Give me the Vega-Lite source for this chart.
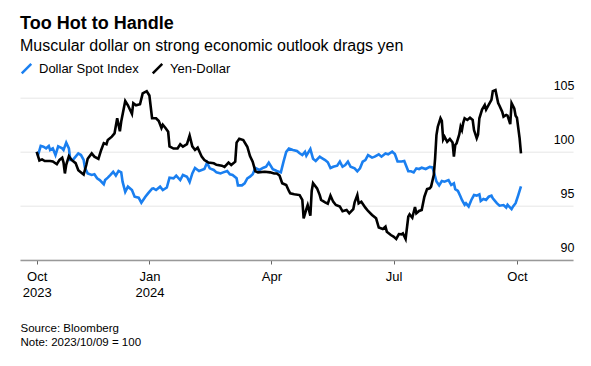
{
  "$schema": "https://vega.github.io/schema/vega-lite/v6.json",
  "width": 553,
  "height": 162.3,
  "autosize": {"type": "none"},
  "padding": {"left": 20, "right": 18, "top": 97.7, "bottom": 106},
  "title": {
    "text": "Too Hot to Handle",
    "subtitle": "Muscular dollar on strong economic outlook drags yen",
    "anchor": "start",
    "frame": "group",
    "font": "Liberation Sans",
    "fontSize": 18,
    "fontWeight": "bold",
    "color": "#000000",
    "subtitleFont": "Liberation Sans",
    "subtitleFontSize": 16,
    "subtitleColor": "#000000",
    "subtitlePadding": 5,
    "offset": 8
  },
  "datasets": {
    "yen": [
      {"t": "2023-10-09", "v": 100.0}, {"t": "2023-10-11", "v": 99.2}, {"t": "2023-10-13", "v": 99.3}, {"t": "2023-10-15", "v": 99.15},
      {"t": "2023-10-19", "v": 99.15}, {"t": "2023-10-21", "v": 99.1}, {"t": "2023-10-24", "v": 98.85}, {"t": "2023-10-26", "v": 99.25},
      {"t": "2023-10-28", "v": 99.45}, {"t": "2023-10-29", "v": 99.0}, {"t": "2023-10-30", "v": 98.0}, {"t": "2023-10-31", "v": 98.8},
      {"t": "2023-11-02", "v": 99.6}, {"t": "2023-11-04", "v": 99.25}, {"t": "2023-11-07", "v": 98.95}, {"t": "2023-11-09", "v": 98.3},
      {"t": "2023-11-12", "v": 98.0}, {"t": "2023-11-13", "v": 97.9}, {"t": "2023-11-15", "v": 98.8}, {"t": "2023-11-16", "v": 99.35},
      {"t": "2023-11-19", "v": 99.85}, {"t": "2023-11-21", "v": 99.55}, {"t": "2023-11-24", "v": 99.35}, {"t": "2023-11-26", "v": 100.15},
      {"t": "2023-11-28", "v": 100.8}, {"t": "2023-11-30", "v": 100.7}, {"t": "2023-12-01", "v": 101.1}, {"t": "2023-12-04", "v": 101.4},
      {"t": "2023-12-06", "v": 101.7}, {"t": "2023-12-08", "v": 103.1}, {"t": "2023-12-10", "v": 101.9}, {"t": "2023-12-11", "v": 102.8},
      {"t": "2023-12-14", "v": 104.7}, {"t": "2023-12-16", "v": 104.3}, {"t": "2023-12-19", "v": 103.5}, {"t": "2023-12-20", "v": 104.5},
      {"t": "2023-12-22", "v": 104.3}, {"t": "2023-12-25", "v": 104.4}, {"t": "2023-12-27", "v": 105.4}, {"t": "2023-12-30", "v": 105.6},
      {"t": "2024-01-01", "v": 105.2}, {"t": "2024-01-03", "v": 103.1}, {"t": "2024-01-06", "v": 103.1}, {"t": "2024-01-08", "v": 102.85},
      {"t": "2024-01-10", "v": 102.2}, {"t": "2024-01-11", "v": 102.5}, {"t": "2024-01-13", "v": 102.2}, {"t": "2024-01-15", "v": 101.85},
      {"t": "2024-01-16", "v": 100.5}, {"t": "2024-01-19", "v": 100.3}, {"t": "2024-01-22", "v": 100.3}, {"t": "2024-01-24", "v": 100.7},
      {"t": "2024-01-26", "v": 100.47}, {"t": "2024-01-29", "v": 100.7}, {"t": "2024-01-31", "v": 101.5}, {"t": "2024-02-02", "v": 100.5},
      {"t": "2024-02-04", "v": 100.17}, {"t": "2024-02-06", "v": 100.38}, {"t": "2024-02-09", "v": 99.55}, {"t": "2024-02-11", "v": 99.24},
      {"t": "2024-02-14", "v": 99.0}, {"t": "2024-02-18", "v": 98.94}, {"t": "2024-02-20", "v": 98.8}, {"t": "2024-02-24", "v": 98.72},
      {"t": "2024-02-26", "v": 98.6}, {"t": "2024-02-29", "v": 99.0}, {"t": "2024-03-02", "v": 98.78}, {"t": "2024-03-05", "v": 99.09},
      {"t": "2024-03-06", "v": 100.85}, {"t": "2024-03-08", "v": 101.2}, {"t": "2024-03-11", "v": 101.09}, {"t": "2024-03-14", "v": 100.47},
      {"t": "2024-03-16", "v": 99.6}, {"t": "2024-03-18", "v": 99.09}, {"t": "2024-03-20", "v": 98.2}, {"t": "2024-03-22", "v": 98.1},
      {"t": "2024-03-27", "v": 98.16}, {"t": "2024-03-31", "v": 98.1}, {"t": "2024-04-03", "v": 98.0}, {"t": "2024-04-05", "v": 98.0},
      {"t": "2024-04-07", "v": 97.8}, {"t": "2024-04-09", "v": 97.1}, {"t": "2024-04-12", "v": 96.93}, {"t": "2024-04-14", "v": 96.38},
      {"t": "2024-04-15", "v": 96.16}, {"t": "2024-04-18", "v": 96.07}, {"t": "2024-04-22", "v": 96.0}, {"t": "2024-04-24", "v": 95.55},
      {"t": "2024-04-25", "v": 93.85}, {"t": "2024-04-27", "v": 94.71}, {"t": "2024-04-28", "v": 95.08}, {"t": "2024-04-30", "v": 94.1},
      {"t": "2024-05-01", "v": 96.38}, {"t": "2024-05-02", "v": 97.1}, {"t": "2024-05-05", "v": 96.62}, {"t": "2024-05-07", "v": 96.0},
      {"t": "2024-05-08", "v": 95.55}, {"t": "2024-05-11", "v": 95.33}, {"t": "2024-05-13", "v": 95.2}, {"t": "2024-05-15", "v": 95.95},
      {"t": "2024-05-17", "v": 95.39}, {"t": "2024-05-19", "v": 95.08}, {"t": "2024-05-22", "v": 94.93}, {"t": "2024-05-24", "v": 94.5},
      {"t": "2024-05-27", "v": 94.62}, {"t": "2024-05-29", "v": 94.31}, {"t": "2024-06-01", "v": 94.71}, {"t": "2024-06-02", "v": 95.33},
      {"t": "2024-06-04", "v": 96.0}, {"t": "2024-06-05", "v": 95.24}, {"t": "2024-06-07", "v": 95.39}, {"t": "2024-06-10", "v": 94.84},
      {"t": "2024-06-12", "v": 94.53}, {"t": "2024-06-15", "v": 94.16}, {"t": "2024-06-18", "v": 93.85}, {"t": "2024-06-20", "v": 93.0},
      {"t": "2024-06-23", "v": 92.87}, {"t": "2024-06-25", "v": 93.08}, {"t": "2024-06-26", "v": 92.62}, {"t": "2024-06-29", "v": 92.31},
      {"t": "2024-07-01", "v": 92.16}, {"t": "2024-07-03", "v": 91.95}, {"t": "2024-07-05", "v": 92.4}, {"t": "2024-07-07", "v": 92.37},
      {"t": "2024-07-08", "v": 92.46}, {"t": "2024-07-10", "v": 91.95}, {"t": "2024-07-12", "v": 94.0}, {"t": "2024-07-13", "v": 94.22},
      {"t": "2024-07-15", "v": 93.91}, {"t": "2024-07-17", "v": 94.9}, {"t": "2024-07-18", "v": 94.31}, {"t": "2024-07-20", "v": 94.53},
      {"t": "2024-07-22", "v": 94.62}, {"t": "2024-07-24", "v": 95.85}, {"t": "2024-07-26", "v": 96.55}, {"t": "2024-07-28", "v": 96.62},
      {"t": "2024-07-29", "v": 96.78}, {"t": "2024-07-31", "v": 97.85}, {"t": "2024-08-01", "v": 99.4}, {"t": "2024-08-02", "v": 101.55},
      {"t": "2024-08-03", "v": 102.32}, {"t": "2024-08-05", "v": 103.1}, {"t": "2024-08-06", "v": 102.85}, {"t": "2024-08-07", "v": 101.15},
      {"t": "2024-08-08", "v": 101.4}, {"t": "2024-08-10", "v": 100.93}, {"t": "2024-08-12", "v": 101.18}, {"t": "2024-08-14", "v": 100.87},
      {"t": "2024-08-15", "v": 99.55}, {"t": "2024-08-16", "v": 100.63}, {"t": "2024-08-17", "v": 100.78}, {"t": "2024-08-19", "v": 101.61},
      {"t": "2024-08-20", "v": 102.32}, {"t": "2024-08-21", "v": 102.01}, {"t": "2024-08-22", "v": 102.7}, {"t": "2024-08-23", "v": 103.1},
      {"t": "2024-08-25", "v": 102.94}, {"t": "2024-08-27", "v": 103.15}, {"t": "2024-08-29", "v": 102.94}, {"t": "2024-08-30", "v": 102.01},
      {"t": "2024-09-01", "v": 101.25}, {"t": "2024-09-02", "v": 101.61}, {"t": "2024-09-03", "v": 103.1}, {"t": "2024-09-05", "v": 103.9},
      {"t": "2024-09-07", "v": 104.33}, {"t": "2024-09-08", "v": 103.9}, {"t": "2024-09-10", "v": 104.35}, {"t": "2024-09-12", "v": 104.8},
      {"t": "2024-09-13", "v": 105.6}, {"t": "2024-09-15", "v": 105.7}, {"t": "2024-09-17", "v": 104.5}, {"t": "2024-09-18", "v": 104.26},
      {"t": "2024-09-20", "v": 103.7}, {"t": "2024-09-21", "v": 103.25}, {"t": "2024-09-23", "v": 103.4}, {"t": "2024-09-24", "v": 103.34},
      {"t": "2024-09-26", "v": 102.55}, {"t": "2024-09-27", "v": 104.5}, {"t": "2024-09-29", "v": 104.02}, {"t": "2024-09-30", "v": 103.34},
      {"t": "2024-10-01", "v": 103.15}, {"t": "2024-10-03", "v": 101.25}, {"t": "2024-10-04", "v": 99.85}
    ],
    "dollar": [
      {"t": "2023-10-09", "v": 100.0}, {"t": "2023-10-10", "v": 99.7}, {"t": "2023-10-12", "v": 100.55}, {"t": "2023-10-14", "v": 100.47},
      {"t": "2023-10-16", "v": 100.32}, {"t": "2023-10-18", "v": 100.54}, {"t": "2023-10-19", "v": 100.17}, {"t": "2023-10-21", "v": 100.32},
      {"t": "2023-10-23", "v": 99.7}, {"t": "2023-10-25", "v": 100.5}, {"t": "2023-10-28", "v": 100.32}, {"t": "2023-10-29", "v": 100.17},
      {"t": "2023-10-31", "v": 100.85}, {"t": "2023-11-02", "v": 100.32}, {"t": "2023-11-03", "v": 99.25}, {"t": "2023-11-05", "v": 99.25},
      {"t": "2023-11-07", "v": 99.55}, {"t": "2023-11-09", "v": 99.85}, {"t": "2023-11-11", "v": 99.7}, {"t": "2023-11-13", "v": 99.25},
      {"t": "2023-11-14", "v": 98.5}, {"t": "2023-11-16", "v": 98.0}, {"t": "2023-11-19", "v": 97.86}, {"t": "2023-11-21", "v": 97.92},
      {"t": "2023-11-23", "v": 97.55}, {"t": "2023-11-25", "v": 97.39}, {"t": "2023-11-28", "v": 97.0}, {"t": "2023-11-29", "v": 97.39},
      {"t": "2023-12-01", "v": 97.61}, {"t": "2023-12-03", "v": 97.86}, {"t": "2023-12-05", "v": 98.15}, {"t": "2023-12-07", "v": 97.8},
      {"t": "2023-12-09", "v": 98.23}, {"t": "2023-12-11", "v": 98.1}, {"t": "2023-12-12", "v": 97.24}, {"t": "2023-12-14", "v": 96.3},
      {"t": "2023-12-16", "v": 96.78}, {"t": "2023-12-19", "v": 96.47}, {"t": "2023-12-21", "v": 95.85}, {"t": "2023-12-24", "v": 95.76},
      {"t": "2023-12-26", "v": 95.3}, {"t": "2023-12-29", "v": 95.85}, {"t": "2023-12-31", "v": 96.16}, {"t": "2024-01-03", "v": 96.6},
      {"t": "2024-01-04", "v": 96.62}, {"t": "2024-01-06", "v": 96.47}, {"t": "2024-01-09", "v": 96.78}, {"t": "2024-01-11", "v": 96.47},
      {"t": "2024-01-14", "v": 96.7}, {"t": "2024-01-16", "v": 97.6}, {"t": "2024-01-19", "v": 97.55}, {"t": "2024-01-21", "v": 97.8},
      {"t": "2024-01-24", "v": 97.39}, {"t": "2024-01-26", "v": 97.86}, {"t": "2024-01-29", "v": 97.7}, {"t": "2024-01-31", "v": 97.2},
      {"t": "2024-02-02", "v": 98.0}, {"t": "2024-02-04", "v": 98.5}, {"t": "2024-02-07", "v": 98.23}, {"t": "2024-02-09", "v": 98.32},
      {"t": "2024-02-11", "v": 98.41}, {"t": "2024-02-13", "v": 99.0}, {"t": "2024-02-15", "v": 98.47}, {"t": "2024-02-18", "v": 98.32},
      {"t": "2024-02-20", "v": 98.1}, {"t": "2024-02-23", "v": 98.0}, {"t": "2024-02-25", "v": 98.1}, {"t": "2024-02-28", "v": 98.23},
      {"t": "2024-03-01", "v": 97.92}, {"t": "2024-03-03", "v": 97.86}, {"t": "2024-03-06", "v": 97.55}, {"t": "2024-03-07", "v": 96.9},
      {"t": "2024-03-10", "v": 96.9}, {"t": "2024-03-12", "v": 97.09}, {"t": "2024-03-14", "v": 97.55}, {"t": "2024-03-16", "v": 97.7},
      {"t": "2024-03-18", "v": 97.92}, {"t": "2024-03-20", "v": 98.5}, {"t": "2024-03-23", "v": 98.32}, {"t": "2024-03-26", "v": 98.53},
      {"t": "2024-03-28", "v": 98.62}, {"t": "2024-03-30", "v": 99.0}, {"t": "2024-04-02", "v": 98.4}, {"t": "2024-04-05", "v": 98.23},
      {"t": "2024-04-08", "v": 98.1}, {"t": "2024-04-10", "v": 99.09}, {"t": "2024-04-12", "v": 100.0}, {"t": "2024-04-14", "v": 100.3},
      {"t": "2024-04-17", "v": 100.17}, {"t": "2024-04-20", "v": 100.07}, {"t": "2024-04-22", "v": 99.86}, {"t": "2024-04-24", "v": 99.7},
      {"t": "2024-04-26", "v": 100.0}, {"t": "2024-04-27", "v": 99.64}, {"t": "2024-04-30", "v": 100.25}, {"t": "2024-05-02", "v": 99.35},
      {"t": "2024-05-04", "v": 99.15}, {"t": "2024-05-07", "v": 99.55}, {"t": "2024-05-08", "v": 99.46}, {"t": "2024-05-11", "v": 99.24},
      {"t": "2024-05-13", "v": 99.03}, {"t": "2024-05-15", "v": 98.5}, {"t": "2024-05-17", "v": 98.62}, {"t": "2024-05-20", "v": 98.72},
      {"t": "2024-05-22", "v": 99.1}, {"t": "2024-05-24", "v": 98.62}, {"t": "2024-05-26", "v": 98.78}, {"t": "2024-05-28", "v": 99.09},
      {"t": "2024-05-30", "v": 98.62}, {"t": "2024-06-02", "v": 98.47}, {"t": "2024-06-04", "v": 98.2}, {"t": "2024-06-06", "v": 98.47},
      {"t": "2024-06-08", "v": 99.09}, {"t": "2024-06-10", "v": 99.24}, {"t": "2024-06-12", "v": 99.7}, {"t": "2024-06-15", "v": 99.46},
      {"t": "2024-06-17", "v": 99.55}, {"t": "2024-06-20", "v": 99.77}, {"t": "2024-06-22", "v": 99.55}, {"t": "2024-06-25", "v": 99.85},
      {"t": "2024-06-27", "v": 99.77}, {"t": "2024-06-30", "v": 100.01}, {"t": "2024-07-02", "v": 99.8}, {"t": "2024-07-04", "v": 99.1},
      {"t": "2024-07-07", "v": 99.1}, {"t": "2024-07-09", "v": 99.15}, {"t": "2024-07-12", "v": 98.2}, {"t": "2024-07-14", "v": 98.2},
      {"t": "2024-07-16", "v": 98.1}, {"t": "2024-07-18", "v": 98.47}, {"t": "2024-07-20", "v": 98.41}, {"t": "2024-07-22", "v": 98.53},
      {"t": "2024-07-25", "v": 98.41}, {"t": "2024-07-28", "v": 98.6}, {"t": "2024-07-30", "v": 98.55}, {"t": "2024-07-31", "v": 98.16},
      {"t": "2024-08-02", "v": 97.25}, {"t": "2024-08-04", "v": 96.9}, {"t": "2024-08-06", "v": 97.3}, {"t": "2024-08-08", "v": 97.24},
      {"t": "2024-08-11", "v": 97.39}, {"t": "2024-08-13", "v": 96.93}, {"t": "2024-08-15", "v": 97.09}, {"t": "2024-08-16", "v": 96.55},
      {"t": "2024-08-18", "v": 96.38}, {"t": "2024-08-20", "v": 95.85}, {"t": "2024-08-21", "v": 95.55}, {"t": "2024-08-23", "v": 95.1},
      {"t": "2024-08-24", "v": 95.24}, {"t": "2024-08-26", "v": 94.95}, {"t": "2024-08-28", "v": 95.55}, {"t": "2024-08-30", "v": 96.0},
      {"t": "2024-09-01", "v": 95.95}, {"t": "2024-09-03", "v": 96.07}, {"t": "2024-09-04", "v": 95.45}, {"t": "2024-09-06", "v": 95.64},
      {"t": "2024-09-08", "v": 95.55}, {"t": "2024-09-10", "v": 95.85}, {"t": "2024-09-12", "v": 95.95}, {"t": "2024-09-13", "v": 95.7},
      {"t": "2024-09-16", "v": 95.25}, {"t": "2024-09-18", "v": 95.02}, {"t": "2024-09-21", "v": 95.08}, {"t": "2024-09-23", "v": 94.85},
      {"t": "2024-09-24", "v": 95.1}, {"t": "2024-09-27", "v": 94.7}, {"t": "2024-09-28", "v": 94.93}, {"t": "2024-09-30", "v": 95.25},
      {"t": "2024-10-02", "v": 96.0}, {"t": "2024-10-04", "v": 96.8}
    ]
  },
  "encoding": {
    "x": {
      "field": "t",
      "type": "temporal",
      "scale": {
        "type": "utc",
        "domain": [
          {"year": 2023, "month": 9, "date": 26, "hours": 13, "utc": true},
          {"year": 2024, "month": 11, "date": 11, "hours": 19, "utc": true}
        ]
      },
      "axis": {
        "title": ["Source: Bloomberg", "Note: 2023/10/09 = 100"],
        "titleAnchor": "start",
        "titleAlign": "left",
        "titleX": 0,
        "titleY": 71,
        "titleBaseline": "alphabetic",
        "titleFont": "Liberation Sans",
        "titleFontSize": 11.5,
        "titleFontWeight": "normal",
        "titleColor": "#000000",
        "titleLineHeight": 14,
        "values": [
          {"year": 2023, "month": 10, "date": 9, "utc": true},
          {"year": 2024, "month": 1, "date": 1, "utc": true},
          {"year": 2024, "month": 4, "date": 1, "utc": true},
          {"year": 2024, "month": 7, "date": 1, "utc": true},
          {"year": 2024, "month": 10, "date": 1, "utc": true}
        ],
        "labelExpr": "utcyear(datum.value) == 2023 ? ['Oct', '2023'] : utcmonth(datum.value) == 0 ? ['Jan', '2024'] : utcFormat(datum.value, '%b')",
        "labelFont": "Liberation Sans",
        "labelFontSize": 13,
        "labelColor": "#000000",
        "labelPadding": 6,
        "labelLineHeight": 16,
        "labelFlush": false,
        "labelOverlap": false,
        "tickSize": 4,
        "tickColor": "#666666",
        "domainColor": "#999999",
        "domainWidth": 1.6,
        "grid": false
      }
    },
    "y": {
      "field": "v",
      "type": "quantitative",
      "scale": {"domain": [90, 105], "nice": false, "zero": false},
      "axis": {
        "orient": "right",
        "title": null,
        "values": [90, 95, 100, 105],
        "ticks": false,
        "domain": false,
        "labelAlign": "right",
        "labelBaseline": "alphabetic",
        "labelPadding": 1,
        "labelOffset": -8.5,
        "labelFont": "Liberation Sans",
        "labelFontSize": 12.5,
        "labelColor": "#000000",
        "grid": true,
        "gridColor": "#e6e6e6",
        "gridWidth": 1
      }
    }
  },
  "layer": [
    {
      "data": {"name": "dollar"},
      "mark": {"type": "line", "strokeWidth": 2.6},
      "encoding": {
        "color": {
          "datum": "Dollar Spot Index",
          "type": "nominal",
          "scale": {"domain": ["Dollar Spot Index", "Yen-Dollar"], "range": ["#1a7ff0", "#000000"]},
          "legend": {
            "orient": "none",
            "legendX": 0,
            "legendY": -36,
            "direction": "horizontal",
            "title": null,
            "symbolType": "M-1,1L1,-1",
            "symbolSize": 90,
            "symbolStrokeWidth": 2.5,
            "labelFont": "Liberation Sans",
            "labelFontSize": 13,
            "labelColor": "#000000",
            "labelOffset": 6,
            "columnPadding": 8
          }
        }
      }
    },
    {
      "data": {"name": "yen"},
      "mark": {"type": "line", "strokeWidth": 2.6},
      "encoding": {
        "color": {"datum": "Yen-Dollar", "type": "nominal"}
      }
    }
  ],
  "config": {
    "view": {"stroke": null},
    "font": "Liberation Sans"
  }
}
